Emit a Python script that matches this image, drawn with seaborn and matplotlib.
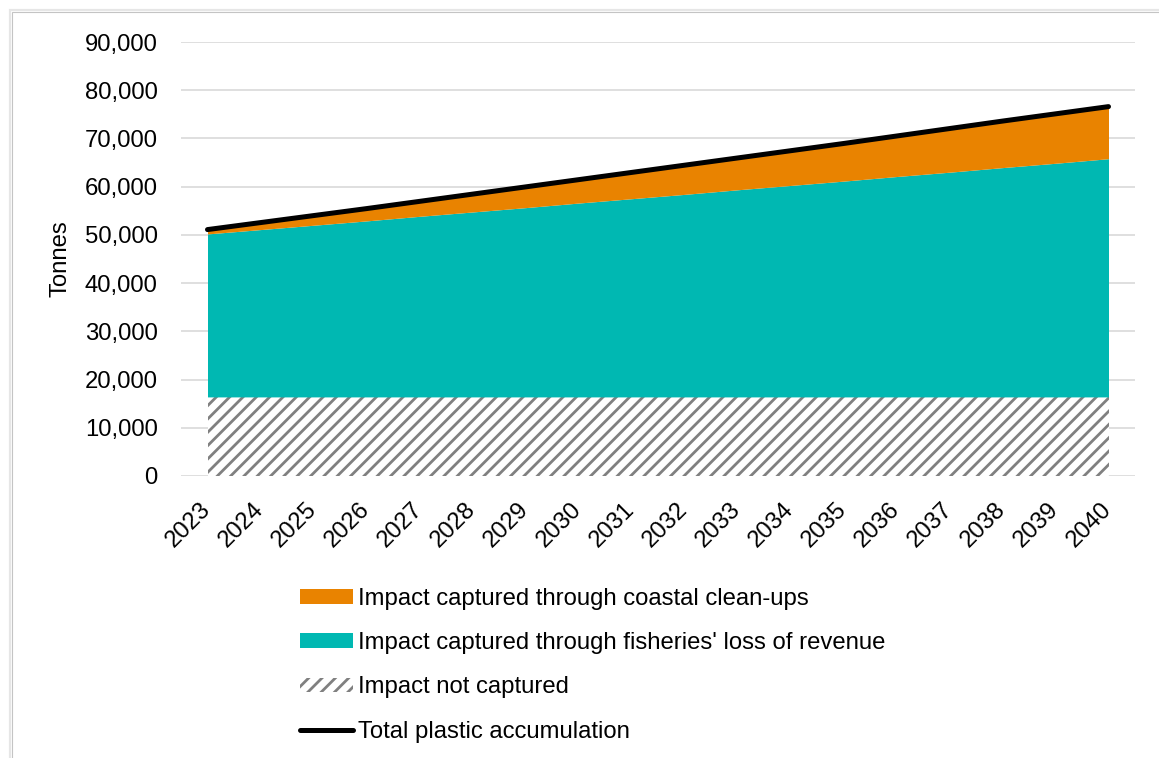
import matplotlib.pyplot as plt
import seaborn as sns
import pandas as pd
from matplotlib.patches import Patch, Rectangle
from matplotlib.lines import Line2D
from matplotlib.ticker import FuncFormatter

#years on the category axis
years = [2023, 2024, 2025, 2026, 2027, 2028, 2029, 2030, 2031,
         2032, 2033, 2034, 2035, 2036, 2037, 2038, 2039, 2040]

#stacked layers (tonnes)
not_captured = [16400, 16400, 16400, 16400, 16400, 16400, 16400, 16400, 16400,
                16400, 16400, 16400, 16400, 16400, 16400, 16400, 16400, 16400]
fisheries = [33800, 34700, 35600, 36500, 37450, 38350, 39250, 40200, 41100,
             42000, 42950, 43850, 44750, 45700, 46600, 47550, 48450, 49400]
cleanups = [900, 1450, 2000, 2550, 3100, 3700, 4300, 4850, 5450,
            6050, 6600, 7200, 7800, 8400, 9050, 9650, 10250, 10800]
total = [51100, 52550, 54000, 55450, 56950, 58450, 59950, 61450, 62950,
         64450, 65950, 67450, 68950, 70500, 72050, 73600, 75100, 76600]

labels = ["Impact captured through coastal clean-ups",
          "Impact captured through fisheries' loss of revenue",
          "Impact not captured",
          "Total plastic accumulation"]

ORANGE = '#E98300'
TEAL = '#00B8B2'
HATCH_GREY = '#808080'

df = pd.DataFrame({'year': years, 'not_captured': not_captured,
                   'fisheries': fisheries, 'cleanups': cleanups, 'total': total})
df['pos'] = df.index

sns.set_theme(style='white')
plt.rcParams['font.family'] = ['Liberation Sans', 'DejaVu Sans']
plt.rcParams['hatch.linewidth'] = 2.5
plt.rcParams['text.color'] = 'black'
plt.rcParams['axes.labelcolor'] = 'black'
plt.rcParams['xtick.color'] = 'black'
plt.rcParams['ytick.color'] = 'black'

DPI = 80
W, H = 1159, 758
FS = 21.5
fig = plt.figure(figsize=(W / DPI, H / DPI), dpi=DPI)
ax = fig.add_axes([181 / W, 1 - 476 / H, (1135 - 181) / W, (476 - 42) / H])

#the stacked areas
polys = ax.stackplot(df['pos'], df['not_captured'], df['fisheries'], df['cleanups'],
                     colors=['white', TEAL, ORANGE], linewidth=0)
polys[0].set_hatch('//')
polys[0].set_edgecolor(HATCH_GREY)
polys[0].set_linewidth(0)

#total line on top
sns.lineplot(data=df, x='pos', y='total', color='black', lw=4.5,
             solid_capstyle='round', ax=ax, legend=False, zorder=5)

ax.set_xlim(-0.5, len(years) - 0.5)
ax.set_ylim(0, 90000)
ax.set_yticks(range(0, 90001, 10000))
ax.yaxis.set_major_formatter(FuncFormatter(lambda v, p: f'{int(v):,}'))
ax.set_xticks(df['pos'])
ax.set_xticklabels([str(y) for y in years], rotation=45, ha='right',
                   rotation_mode='anchor', va='center')
ax.tick_params(axis='y', length=0, pad=21, labelsize=FS)
ax.tick_params(axis='x', length=0, pad=27, labelsize=FS)
ax.yaxis.grid(True, color='#d9d9d9', lw=1.5)
ax.xaxis.grid(False)
ax.set_axisbelow(True)
for s in ax.spines.values():
    s.set_visible(False)
ax.set_xlabel('')
ax.set_ylabel('Tonnes', fontsize=FS)
ax.yaxis.set_label_coords(-0.115, 0.5)

#legend below the chart
handles = [Patch(facecolor=ORANGE, lw=0),
           Patch(facecolor=TEAL, lw=0),
           Patch(facecolor='white', edgecolor=HATCH_GREY, hatch='//', lw=0),
           Line2D([], [], color='black', lw=4.5, solid_capstyle='round')]
fig.legend(handles, labels, loc='upper left', bbox_to_anchor=(300 / W, 1 - 588 / H),
           frameon=False, borderpad=0, borderaxespad=0, fontsize=FS,
           handlelength=2.2, handleheight=0.56, handletextpad=0.22, labelspacing=0.93)

#chart frame like the source slide
fig.patches.append(Rectangle((10 / W, -0.1), 1.2, 1 - 10 / H + 0.1, transform=fig.transFigure,
                             fill=False, edgecolor='#e6e6e6', lw=2))
fig.patches.append(Rectangle((12 / W, -0.1), 1.2, 1 - 12 / H + 0.1, transform=fig.transFigure,
                             fill=False, edgecolor='#c4c4c4', lw=1))

fig.savefig('out.png', dpi=DPI, facecolor='white')
